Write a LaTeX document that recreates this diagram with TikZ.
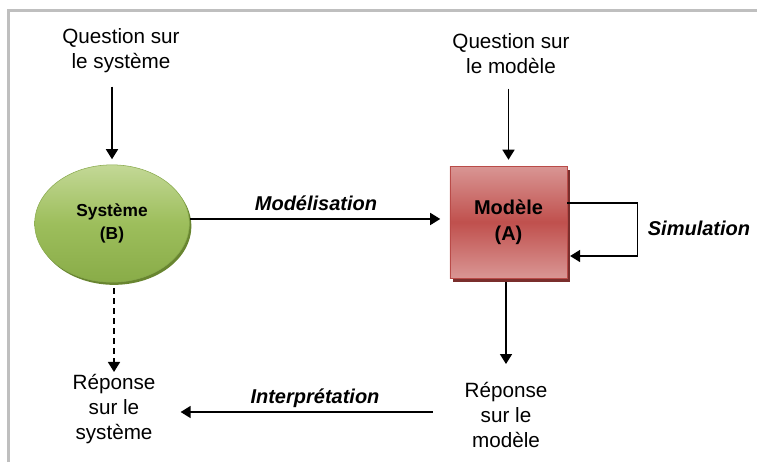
\documentclass[tikz,border=0pt]{standalone}
\usepackage{fontspec}
\setmainfont{Liberation Sans}
\usepackage{tikz}
\usetikzlibrary{arrows.meta,positioning,shapes.geometric,shadows}
\definecolor{framegray}{RGB}{191,191,191}
\definecolor{greentop}{RGB}{195,216,150}
\definecolor{greenmid}{RGB}{157,190,92}
\definecolor{greenbot}{RGB}{137,172,72}
\definecolor{greenedge}{RGB}{137,170,78}
\definecolor{greenshadow}{RGB}{104,133,48}
\definecolor{redlight}{RGB}{217,150,148}
\definecolor{redmid}{RGB}{192,80,77}
\definecolor{rededge}{RGB}{185,75,72}
\definecolor{redshadow}{RGB}{122,46,44}
\tikzset{
  plaintext/.style={align=center,inner sep=0pt,font=\fontsize{15.5}{18.75}\selectfont},
  edgelabel/.style={anchor=base,inner sep=0pt,font=\fontsize{15}{18}\selectfont\bfseries\itshape},
  systemnode/.style={ellipse,draw=greenedge,thin,top color=greentop,bottom color=greenbot,
    middle color=greenmid,minimum width=116pt,minimum height=88pt,inner sep=0pt,align=center,
    font=\fontsize{13}{17}\selectfont\bfseries,
    drop shadow={shadow xshift=1.5pt,shadow yshift=-2pt,fill=greenshadow,opacity=1}},
  modelnode/.style={rectangle,draw=rededge,thin,top color=redlight,bottom color=redlight,
    middle color=redmid,minimum width=88pt,minimum height=84pt,inner sep=0pt,align=center,
    font=\fontsize{15}{19.5}\selectfont\bfseries,
    drop shadow={shadow xshift=2.25pt,shadow yshift=-3pt,fill=redshadow,opacity=1}},
  flowarrow/.style={-{Triangle[length=7.5pt,width=9pt]},line width=1.1pt,draw=black},
}
\begin{document}
\begin{tikzpicture}[x=0.75pt,y=-0.75pt]
  \useasboundingbox (0,0) rectangle (757,462);
  % frame
  \draw[framegray,line width=2.25pt] (8.5,462) -- (8.5,10.5) -- (757,10.5);

  % questions
  \node[plaintext] (qsys) at (121,51) {Question sur\\le système};
  \node[plaintext] (qmod) at (511,53.5) {Question sur\\le modèle};

  % system and model
  \node[systemnode] (sys) at (112,223.5) {Système\\(B)};
  \node[modelnode] (mod) at (508.5,222) {Modèle\\(A)};

  % answers
  \node[plaintext] (rsys) at (114,409) {Réponse\\sur le\\système};
  \node[plaintext] (rmod) at (506,415) {Réponse\\sur le\\modèle};

  % labels
  \node[edgelabel] (lblmodel) at (316,210) {Modélisation};
  \node[edgelabel] (lblsim) at (699,235) {Simulation};
  \node[edgelabel] (lblinterp) at (315,403) {Interprétation};

  % connectors
  \draw[flowarrow,shorten <=10pt,shorten >=4pt] (qsys.south -| sys.north) -- (sys.north);
  \draw[flowarrow,shorten <=11pt,shorten >=4.5pt] (qmod.south -| mod.north) -- (mod.north);
  \draw[flowarrow,shorten >=7pt] ([yshift=3.4pt]sys.east) -- ([yshift=3.4pt]sys.east -| mod.west);
  \draw[flowarrow,shorten >=2pt] ([yshift=14.25pt]mod.east) -- ++(70,0)
    |- ([yshift=-25.5pt]mod.east);
  \draw[flowarrow,shorten <=3pt,shorten >=13.5pt] (mod.south -| rmod.north) -- (rmod.north);
  \draw[flowarrow,dash pattern=on 4.5pt off 3pt,shorten <=4.5pt,shorten >=1.5pt]
    (sys.south -| rsys.north) -- (rsys.north);
  \draw[flowarrow,shorten <=23.6pt,shorten >=18.75pt] ([yshift=2.25pt]rmod.west)
    -- ([yshift=2.25pt]rmod.west -| rsys.east);
\end{tikzpicture}
\end{document}
